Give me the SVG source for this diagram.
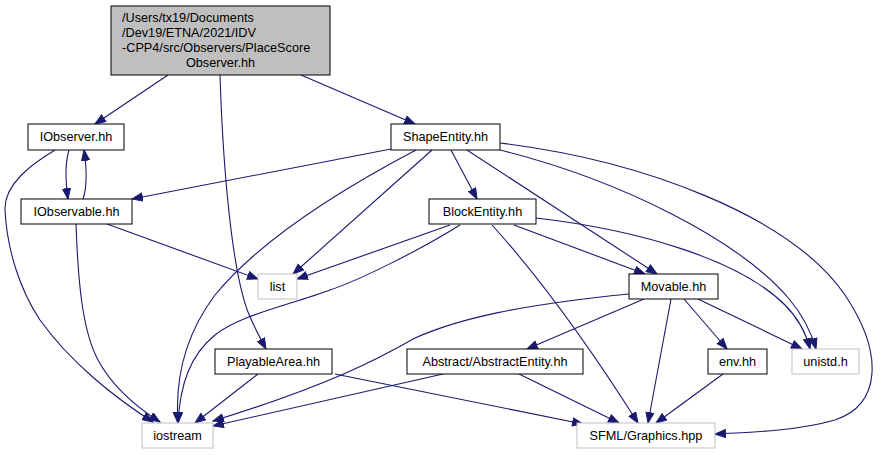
<svg xmlns="http://www.w3.org/2000/svg" width="882" height="455" viewBox="0 0 882 455">
<style>
.n rect{fill:#ffffff;stroke:#000000;stroke-width:1}
.g rect{fill:#ffffff;stroke:#bfbfbf;stroke-width:1}
.top rect{fill:#bfbfbf;stroke:#000000;stroke-width:1}
text{font-family:"Liberation Sans",Arial,sans-serif;font-size:12.7px;fill:#000000}
.c{text-anchor:middle}
#edges path{fill:none;stroke:#191970;stroke-width:1.1;marker-end:url(#ah)}
</style>
<defs>
<marker id="ah" markerUnits="userSpaceOnUse" markerWidth="12" markerHeight="10" refX="11" refY="4.5" orient="auto" viewBox="0 0 12 10">
<path d="M0.5,0.5 L11,4.5 L0.5,8.5 z" fill="#191970" stroke="#191970" stroke-width="1"/>
</marker>
</defs>
<rect width="882" height="455" fill="#ffffff"/>
<g id="edges">
<path d="M168,75 L95,124"/>
<path d="M220,75 C223,170 232,270 248,312 C254,327 260,338 266,349"/>
<path d="M301,75 L415,124"/>
<path d="M69,150 C65,163 65,178 68,199"/>
<path d="M83,199 C87,187 87,170 84,150"/>
<path d="M55,150 C30,165 4,185 5,210 C7,250 20,290 40,320 C70,362 115,398 153,422"/>
<path d="M76,224 C78,280 82,330 98,360 C113,388 138,408 160,422"/>
<path d="M107,224 L258,279"/>
<path d="M391,149 L132,199"/>
<path d="M416,150 C340,190 260,240 215,295 C185,335 175,380 178,423"/>
<path d="M432,150 L293,274"/>
<path d="M451,150 L477,199"/>
<path d="M467,150 L657,274"/>
<path d="M500,150 C620,180 740,240 790,300 C805,318 812,335 816,349"/>
<path d="M500,143 C640,160 790,215 845,295 C885,355 880,405 835,420 C800,430 760,432 715,434"/>
<path d="M450,225 L297,279"/>
<path d="M460,225 C420,250 360,280 330,290 C290,305 240,315 215,335 C190,355 180,385 178,423"/>
<path d="M514,225 L645,274"/>
<path d="M536,218 C640,230 740,260 785,305 C798,318 806,333 810,349"/>
<path d="M492,225 Q560,300 638,423"/>
<path d="M258,374 L195,423"/>
<path d="M335,374 L583,424"/>
<path d="M629,294 C520,305 460,318 415,338 C380,358 330,385 213,421"/>
<path d="M644,299 L527,349"/>
<path d="M671,299 L648,423"/>
<path d="M684,299 L727,349"/>
<path d="M698,299 L802,349"/>
<path d="M443,374 L213,426"/>
<path d="M519,374 L619,423"/>
<path d="M723,374 L656,423"/>
</g>
<g id="node_main" class="top">
<rect x="111" y="6" width="219" height="69"/>
<text x="122" y="21.5">/Users/tx19/Documents</text>
<text x="122" y="36.8">/Dev19/ETNA/2021/IDV</text>
<text x="122" y="52.1">-CPP4/src/Observers/PlaceScore</text>
<text x="220.5" y="67.4" class="c">Observer.hh</text>
</g>
<g id="node_IObserver" class="n">
<rect x="28" y="124" width="96" height="26"/>
<text x="76" y="141" class="c">IObserver.hh</text>
</g>
<g id="node_IObservable" class="n">
<rect x="21" y="199" width="111" height="25"/>
<text x="76.5" y="215.5" class="c">IObservable.hh</text>
</g>
<g id="node_ShapeEntity" class="n">
<rect x="391" y="124" width="109" height="26"/>
<text x="445.5" y="141" class="c">ShapeEntity.hh</text>
</g>
<g id="node_BlockEntity" class="n">
<rect x="429" y="199" width="107" height="25"/>
<text x="482.5" y="215.5" class="c">BlockEntity.hh</text>
</g>
<g id="node_list" class="g">
<rect x="258" y="274" width="39" height="25"/>
<text x="277.5" y="290.5" class="c">list</text>
</g>
<g id="node_Movable" class="n">
<rect x="629" y="274" width="89" height="25"/>
<text x="673.5" y="290.5" class="c">Movable.hh</text>
</g>
<g id="node_PlayableArea" class="n">
<rect x="215" y="349" width="117" height="25"/>
<text x="273.5" y="365.5" class="c">PlayableArea.hh</text>
</g>
<g id="node_AbstractEntity" class="n">
<rect x="407" y="349" width="176" height="25"/>
<text x="495" y="365.5" class="c">Abstract/AbstractEntity.hh</text>
</g>
<g id="node_env" class="n">
<rect x="708" y="349" width="59" height="25"/>
<text x="737.5" y="365.5" class="c">env.hh</text>
</g>
<g id="node_unistd" class="g">
<rect x="792" y="349" width="67" height="25"/>
<text x="825.5" y="365.5" class="c">unistd.h</text>
</g>
<g id="node_iostream" class="g">
<rect x="142" y="423" width="71" height="25"/>
<text x="177.5" y="439.5" class="c">iostream</text>
</g>
<g id="node_SFML" class="g">
<rect x="577" y="423" width="138" height="25"/>
<text x="646" y="439.5" class="c">SFML/Graphics.hpp</text>
</g>
</svg>
